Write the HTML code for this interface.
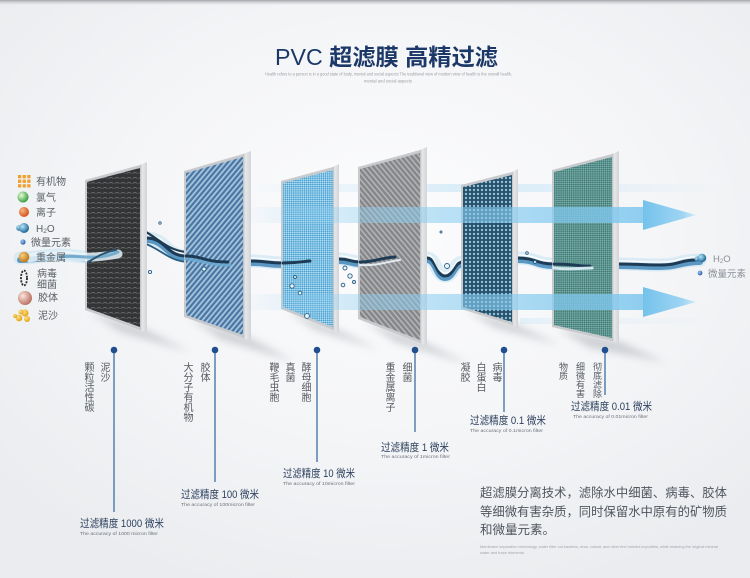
<!DOCTYPE html>
<html><head><meta charset="utf-8">
<style>
html,body{margin:0;padding:0;}
body{width:750px;height:578px;overflow:hidden;position:relative;
background:radial-gradient(ellipse 520px 380px at 52% 40%, #fcfcfd 0%, #f4f5f7 55%, #eaecef 100%);
font-family:"Liberation Sans","Noto Sans CJK SC",sans-serif;}
.topbar{position:absolute;left:0;top:0;width:750px;height:5px;background:linear-gradient(#a4a7ab,#d4d6d9 50%,rgba(240,241,243,0));}
svg{position:absolute;left:0;top:0;}
.v{position:absolute;writing-mode:vertical-rl;font-size:10px;line-height:10px;color:#555a60;letter-spacing:0px;font-family:"Liberation Sans","Noto Sans CJK SC",sans-serif;}
.v.s{font-size:9px;line-height:9px;}
</style></head><body>
<div class="topbar"></div>
<svg width="750" height="578" viewBox="0 0 750 578" xmlns="http://www.w3.org/2000/svg">
<defs>
<pattern id="p1" width="6" height="5" patternUnits="userSpaceOnUse"><rect width="6" height="5" fill="#333436"/><path d="M0.6,3.6 Q3,1.2 5.4,3.6" stroke="#6e7073" stroke-width="0.8" fill="none"/></pattern>
<pattern id="p2" width="4" height="4" patternUnits="userSpaceOnUse" patternTransform="rotate(40)"><rect width="4" height="4" fill="#4a76a2"/><rect width="1.8" height="4" fill="#a8c5df"/></pattern>
<pattern id="p3" width="3" height="3" patternUnits="userSpaceOnUse" patternTransform="rotate(45)"><rect width="3" height="3" fill="#45a0d2"/><rect width="1.5" height="1.5" fill="#b8def1"/><rect x="1.5" y="1.5" width="1.5" height="1.5" fill="#b8def1"/></pattern>
<pattern id="p4" width="4" height="4" patternUnits="userSpaceOnUse" patternTransform="rotate(-40)"><rect width="4" height="4" fill="#858689"/><rect width="1.6" height="4" fill="#b3b4b6"/></pattern>
<pattern id="p5" width="4" height="4" patternUnits="userSpaceOnUse"><rect width="4" height="4" fill="#28506a"/><circle cx="2" cy="2" r="1.2" fill="#8fc2da"/></pattern>
<pattern id="p6" width="3" height="3" patternUnits="userSpaceOnUse" patternTransform="rotate(45)"><rect width="3" height="3" fill="#3e7774"/><rect width="1.5" height="1.5" fill="#7db0aa"/><rect x="1.5" y="1.5" width="1.5" height="1.5" fill="#7db0aa"/></pattern>
<linearGradient id="edge" x1="0" x2="1" y1="0" y2="0"><stop offset="0" stop-color="#b9bbbe"/><stop offset="0.3" stop-color="#e6e7e9"/><stop offset="1" stop-color="#d2d4d7"/></linearGradient>
<linearGradient id="band" x1="240" x2="650" y1="0" y2="0" gradientUnits="userSpaceOnUse"><stop offset="0" stop-color="#8fd0f2" stop-opacity="0"/><stop offset="0.35" stop-color="#8fd0f2" stop-opacity="0.5"/><stop offset="1" stop-color="#7cc6ee" stop-opacity="0.85"/></linearGradient>
<linearGradient id="head" x1="643" x2="700" y1="0" y2="0" gradientUnits="userSpaceOnUse"><stop offset="0" stop-color="#74c2ec"/><stop offset="0.7" stop-color="#9fd5f2"/><stop offset="1" stop-color="#dff0fa"/></linearGradient>
<linearGradient id="faint" x1="240" x2="720" y1="0" y2="0" gradientUnits="userSpaceOnUse"><stop offset="0" stop-color="#bfe2f5" stop-opacity="0"/><stop offset="0.5" stop-color="#bfe2f5" stop-opacity="0.6"/><stop offset="1" stop-color="#bfe2f5" stop-opacity="0"/></linearGradient>
<filter id="blur" x="-30%" y="-30%" width="160%" height="160%"><feGaussianBlur stdDeviation="4"/></filter>
<radialGradient id="gGreen" cx="0.35" cy="0.35" r="0.7"><stop offset="0" stop-color="#eafbd8"/><stop offset="1" stop-color="#2f9a3a"/></radialGradient>
<radialGradient id="gOrange" cx="0.35" cy="0.35" r="0.7"><stop offset="0" stop-color="#f9b486"/><stop offset="1" stop-color="#d24d16"/></radialGradient>
<radialGradient id="gBlue" cx="0.35" cy="0.35" r="0.7"><stop offset="0" stop-color="#b7e6f7"/><stop offset="1" stop-color="#145f92"/></radialGradient>
<radialGradient id="gGold" cx="0.35" cy="0.35" r="0.7"><stop offset="0" stop-color="#f6cf86"/><stop offset="1" stop-color="#bd7410"/></radialGradient>
<radialGradient id="gPink" cx="0.35" cy="0.35" r="0.7"><stop offset="0" stop-color="#fbe6df"/><stop offset="1" stop-color="#b86c5c"/></radialGradient>
<radialGradient id="gYel" cx="0.35" cy="0.35" r="0.7"><stop offset="0" stop-color="#fde38a"/><stop offset="1" stop-color="#e0a010"/></radialGradient>
<radialGradient id="gDot" cx="0.35" cy="0.35" r="0.7"><stop offset="0" stop-color="#9cc8f0"/><stop offset="1" stop-color="#2858a8"/></radialGradient>
</defs>

<!-- Title -->
<text x="275" y="65" textLength="223" lengthAdjust="spacingAndGlyphs" font-size="23" fill="#1c3868" font-family="Liberation Sans, Noto Sans CJK SC, sans-serif"><tspan>PVC </tspan><tspan font-weight="bold">超滤膜 高精过滤</tspan></text>
<text x="265" y="75.5" textLength="247" lengthAdjust="spacingAndGlyphs" font-size="4.3" fill="#9a9ea4">Health refers to a person is in a good state of body, mental and social aspects The traditional view of modern view of health is the overall health,</text>
<text x="364" y="82.5" textLength="48" lengthAdjust="spacingAndGlyphs" font-size="4.3" fill="#9a9ea4">mental and social aspects</text>

<!-- panel shadows -->
<g filter="url(#blur)" fill="#aeb2b8" opacity="0.55">
<polygon points="90,312 147,330 190,352 120,332"/>
<polygon points="189,318 251,338 295,362 222,340"/>
<polygon points="286,310 339,330 380,350 315,330"/>
<polygon points="363,320 427,343 470,365 395,342"/>
<polygon points="466,310 518,325 560,345 495,328"/>
<polygon points="557,328 619,341 665,362 590,348"/>
</g>

<!-- faint streaks -->
<rect x="240" y="184" width="480" height="8" fill="url(#faint)"/>
<rect x="520" y="318" width="180" height="6" fill="url(#faint)" opacity="0.7"/>

<!-- water stream behind panels -->
<g fill="none" stroke-linecap="round" stroke-linejoin="round">
<path d="M20,258 C40,258 40,255 60,255 C80,255 80,258 100,258 C123,258 123,238 146,238 C166,238 166,256 186,256 C203,256 203,262 220,262 C235,262 235,261 251,261 C267,261 267,263 283,263 C311,263 311,259 340,259 C350,259 350,262 360,262 C378,262 378,257 395,257 C411,257 411,258 427,258 C436,258 436,276 445,276 C454,276 454,262 463,262 C476,262 476,257 490,257 C504,257 504,258 518,258 C536,258 536,264 554,264 C572,264 572,265 590,265 C605,265 605,264 620,264 C640,264 640,265 660,265 C680,265 680,260 700,260" stroke="#cfe7f4" stroke-width="13" opacity="0.7"/>
<path d="M20,258 C40,258 40,255 60,255 C80,255 80,258 100,258 C123,258 123,238 146,238 C166,238 166,256 186,256 C203,256 203,262 220,262 C235,262 235,261 251,261 C267,261 267,263 283,263 C311,263 311,259 340,259 C350,259 350,262 360,262 C378,262 378,257 395,257 C411,257 411,258 427,258 C436,258 436,276 445,276 C454,276 454,262 463,262 C476,262 476,257 490,257 C504,257 504,258 518,258 C536,258 536,264 554,264 C572,264 572,265 590,265 C605,265 605,264 620,264 C640,264 640,265 660,265 C680,265 680,260 700,260" stroke="#5a97c2" stroke-width="6" transform="translate(0,2)"/>
<path d="M60,255 C80,255 80,258 100,258 C123,258 123,238 146,238 C166,238 166,256 186,256 C203,256 203,262 220,262 C235,262 235,261 251,261 C267,261 267,263 283,263 C311,263 311,259 340,259 C350,259 350,262 360,262 C378,262 378,257 395,257 C411,257 411,258 427,258 C436,258 436,276 445,276 C454,276 454,262 463,262 C476,262 476,257 490,257 C504,257 504,258 518,258 C536,258 536,264 554,264 C572,264 572,265 590,265 C605,265 605,264 620,264 C640,264 640,265 660,265 C680,265 680,260 695,260" stroke="#1d3b55" stroke-width="3"/>
<path d="M60,255 C80,255 80,258 100,258 C123,258 123,238 146,238 C166,238 166,256 186,256 C203,256 203,262 220,262 C235,262 235,261 251,261 C267,261 267,263 283,263 C311,263 311,259 340,259 C350,259 350,262 360,262 C378,262 378,257 395,257 C411,257 411,258 427,258 C436,258 436,276 445,276 C454,276 454,262 463,262 C476,262 476,257 490,257 C504,257 504,258 518,258 C536,258 536,264 554,264 C572,264 572,265 590,265 C605,265 605,264 620,264 C640,264 640,265 660,265 C680,265 680,260 695,260" stroke="#ffffff" stroke-width="1.3" transform="translate(0,-3)" opacity="0.9"/>
<path d="M146,232 C160,240 168,250 186,252" stroke="#1d3b55" stroke-width="2.2"/>
<path d="M146,244 C162,250 170,262 190,262" stroke="#2a5b80" stroke-width="1.8"/>
</g>

<!-- Panels -->
<g>
<polygon points="85,180 140,165 140,330 85,310" fill="#c8cacd"/>
<polygon points="87,182 140,168 140,327 87,308" fill="url(#p1)"/>
<polygon points="140,165 147,162 147,333 140,330" fill="url(#edge)"/>
<polygon points="184,171 243,154 243,338 184,317" fill="#c8cacd"/>
<polygon points="186,173 243,157 243,335 186,315" fill="url(#p2)"/>
<polygon points="243,154 251,151 251,341 243,338" fill="url(#edge)"/>
<polygon points="281,181 333,167 333,330 281,309" fill="#c8cacd"/>
<polygon points="283,183 333,170 333,327 283,307" fill="url(#p3)"/>
<polygon points="333,167 339,164 339,333 333,330" fill="url(#edge)"/>
<polygon points="358,167 420,150 420,343 358,319" fill="#c8cacd"/>
<polygon points="360,169 420,153 420,340 360,317" fill="url(#p4)"/>
<polygon points="420,150 427,147 427,346 420,343" fill="url(#edge)"/>
<polygon points="461,185 512,172 512,325 461,309" fill="#c8cacd"/>
<polygon points="463,187 512,175 512,322 463,307" fill="url(#p5)"/>
<polygon points="512,172 518,169 518,328 512,325" fill="url(#edge)"/>
<polygon points="552,170 612,154 612,341 552,327" fill="#c8cacd"/>
<polygon points="554,172 612,157 612,338 554,325" fill="url(#p6)"/>
<polygon points="612,154 619,151 619,344 612,341" fill="url(#edge)"/>
</g>

<!-- stream overlays on panels -->
<g fill="none" stroke-linecap="round">
<path d="M30,258 C55,252 75,262 118,254" stroke="#e6f3fa" stroke-width="9" opacity="0.85"/>
<path d="M60,257 C80,254 95,262 118,252" stroke="#5fa0c8" stroke-width="3" opacity="0.8"/>
<path d="M88,262 C98,256 105,252 116,250" stroke="#2a5676" stroke-width="2"/>
<path d="M186,256 C203,256 203,262 228,262" stroke="#1d3b55" stroke-width="3"/>
<path d="M186,259 C203,260 210,266 230,265" stroke="#6aa8d0" stroke-width="3" opacity="0.9"/>
<path d="M283,263 C300,263 305,261 310,261" stroke="#1d3b55" stroke-width="3"/>
<path d="M360,262 C375,262 380,258 395,257" stroke="#1d3b55" stroke-width="3"/>
<path d="M360,265 C378,266 385,262 400,260" stroke="#e9f4fa" stroke-width="2" opacity="0.9"/>
<path d="M554,264 C572,264 575,266 590,266" stroke="#1d3b55" stroke-width="3"/>
<path d="M554,268 C572,270 580,268 592,268" stroke="#dff0f8" stroke-width="3" opacity="0.9"/>
</g>
<!-- droplets -->
<g fill="#eaf5fb" stroke="#2c5f86" stroke-width="0.9">
<circle cx="160" cy="223" r="1.2"/><circle cx="150" cy="272" r="1.6"/><circle cx="204" cy="269" r="2"/>
<circle cx="292" cy="286" r="2.2"/><circle cx="300" cy="293" r="1.8"/><circle cx="307" cy="316" r="2.4"/><circle cx="295" cy="277" r="1.5"/>
<circle cx="345" cy="268" r="2"/><circle cx="350" cy="276" r="2.2"/><circle cx="343" cy="285" r="1.8"/><circle cx="354" cy="282" r="1.5"/>
<circle cx="441" cy="232" r="1"/><circle cx="447" cy="266" r="2.5"/><circle cx="527" cy="253" r="1.3"/><circle cx="535" cy="262" r="1.5"/>
</g>

<!-- arrows / bands -->
<rect x="240" y="207" width="404" height="16" fill="url(#band)"/>
<polygon points="643,200 696,215 643,230" fill="url(#head)"/>
<rect x="240" y="294" width="404" height="16" fill="url(#band)"/>
<polygon points="643,287 696,302 643,317" fill="url(#head)"/>

<!-- right side outputs -->
<circle cx="697" cy="259" r="2.5" fill="url(#gBlue)"/>
<circle cx="702" cy="258" r="4.2" fill="url(#gBlue)"/>
<text x="713" y="262" font-size="9.5" fill="#8a8f96">H<tspan font-size="6" dy="1">2</tspan><tspan dy="-1">O</tspan></text>
<circle cx="700" cy="273" r="2.4" fill="url(#gDot)"/>
<text x="708" y="277" font-size="9.5" fill="#8a8f96">微量元素</text>

<!-- left legend -->
<g fill="#f0a030">
<rect x="18" y="175" width="3.3" height="3.3"/><rect x="22.6" y="175" width="3.3" height="3.3"/><rect x="27.2" y="175" width="3.3" height="3.3"/>
<rect x="18" y="179.6" width="3.3" height="3.3"/><rect x="22.6" y="179.6" width="3.3" height="3.3"/><rect x="27.2" y="179.6" width="3.3" height="3.3"/>
<rect x="18" y="184.2" width="3.3" height="3.3"/><rect x="22.6" y="184.2" width="3.3" height="3.3"/><rect x="27.2" y="184.2" width="3.3" height="3.3"/>
</g>
<circle cx="23" cy="197" r="5.5" fill="url(#gGreen)"/>
<circle cx="24" cy="212" r="5" fill="url(#gOrange)"/>
<circle cx="19" cy="228" r="2.8" fill="url(#gBlue)"/>
<circle cx="24" cy="228" r="5" fill="url(#gBlue)"/>
<circle cx="23" cy="242" r="2.6" fill="url(#gDot)"/>
<circle cx="24" cy="257" r="5.3" fill="url(#gGold)"/>
<ellipse cx="24" cy="278" rx="3" ry="7.5" fill="none" stroke="#2a2a2c" stroke-width="1.8" stroke-dasharray="2 1.2"/>
<circle cx="25" cy="298" r="7" fill="url(#gPink)"/>
<g fill="url(#gYel)"><circle cx="19" cy="318" r="3.3"/><circle cx="25" cy="313" r="3.5"/><circle cx="27" cy="319" r="3"/><circle cx="21" cy="312" r="2.5"/><circle cx="15" cy="316" r="2"/></g>
<g font-size="10" fill="#5b6066">
<text x="36" y="185">有机物</text>
<text x="36" y="201">氯气</text>
<text x="36" y="216">离子</text>
<text x="36" y="232">H<tspan font-size="6.5" dy="1">2</tspan><tspan dy="-1">O</tspan></text>
<text x="31" y="246">微量元素</text>
<text x="36" y="261">重金属</text>
<text x="37" y="277">病毒</text>
<text x="37" y="288">细菌</text>
<text x="38" y="301">胶体</text>
<text x="38" y="319">泥沙</text>
</g>

<!-- leader lines -->
<g stroke="#4a78aa" stroke-width="1.4">
<line x1="114" y1="350" x2="114" y2="512"/>
<line x1="215" y1="350" x2="215" y2="482"/>
<line x1="317" y1="350" x2="317" y2="462"/>
<line x1="415" y1="350" x2="415" y2="432"/>
<line x1="504" y1="350" x2="504" y2="412"/>
<line x1="605" y1="350" x2="605" y2="395"/>
</g>
<g fill="#1f4f8f">
<circle cx="114" cy="350" r="3.3"/><circle cx="215" cy="350" r="3.3"/><circle cx="317" cy="350" r="3.3"/>
<circle cx="415" cy="350" r="3.3"/><circle cx="504" cy="350" r="3.3"/><circle cx="605" cy="350" r="3.3"/>
</g>

<!-- accuracy labels -->
<g font-size="11" fill="#2b3f5c">
<text x="80" y="527" textLength="84" lengthAdjust="spacingAndGlyphs">过滤精度 1000 微米</text>
<text x="181" y="498" textLength="78" lengthAdjust="spacingAndGlyphs">过滤精度 100 微米</text>
<text x="283" y="477" textLength="72" lengthAdjust="spacingAndGlyphs">过滤精度 10 微米</text>
<text x="381" y="451" textLength="68" lengthAdjust="spacingAndGlyphs">过滤精度 1 微米</text>
<text x="470" y="424" textLength="76" lengthAdjust="spacingAndGlyphs">过滤精度 0.1 微米</text>
<text x="571" y="410" textLength="81" lengthAdjust="spacingAndGlyphs">过滤精度 0.01 微米</text>
</g>
<g font-size="4.6" fill="#6b7078">
<text x="80" y="535" textLength="78" lengthAdjust="spacingAndGlyphs">The accuracy of 1000 micron filter</text>
<text x="181" y="506" textLength="74" lengthAdjust="spacingAndGlyphs">The accuracy of 100micron filter</text>
<text x="283" y="485" textLength="72" lengthAdjust="spacingAndGlyphs">The accuracy of 10micron filter</text>
<text x="381" y="458" textLength="69" lengthAdjust="spacingAndGlyphs">The accuracy of 1micron filter</text>
<text x="470" y="432" textLength="73" lengthAdjust="spacingAndGlyphs">The accuracy of 0.1micron filter</text>
<text x="573" y="418" textLength="75" lengthAdjust="spacingAndGlyphs">The accuracy of 0.01micron filter</text>
</g>

<!-- bottom paragraph -->
<g font-size="12.5" fill="#50565e">
<text x="480" y="497" textLength="247" lengthAdjust="spacingAndGlyphs">超滤膜分离技术，滤除水中细菌、病毒、胶体</text>
<text x="480" y="516" textLength="247" lengthAdjust="spacingAndGlyphs">等细微有害杂质，同时保留水中原有的矿物质</text>
<text x="480" y="534">和微量元素。</text>
</g>
<g font-size="3.8" fill="#a0a4aa">
<text x="480" y="548" textLength="238" lengthAdjust="spacingAndGlyphs">Membrane separation technology, water filter out bacteria, virus, colloid, and other fine harmful impurities, while retaining the original mineral</text>
<text x="480" y="554" textLength="45" lengthAdjust="spacingAndGlyphs">water and trace elements.</text>
</g>
</svg>

<!-- vertical captions -->
<div class="v" style="left:98px;top:362px;">泥沙</div>
<div class="v" style="left:82px;top:362px;">颗粒活性碳</div>
<div class="v" style="left:198px;top:362px;">胶体</div>
<div class="v" style="left:181px;top:362px;">大分子有机物</div>
<div class="v" style="left:299px;top:362px;">酵母细胞</div>
<div class="v" style="left:283px;top:362px;">真菌</div>
<div class="v" style="left:267px;top:362px;">鞭毛虫胞</div>
<div class="v" style="left:400px;top:362px;">细菌</div>
<div class="v" style="left:383px;top:362px;">重金属离子</div>
<div class="v" style="left:490px;top:362px;">病毒</div>
<div class="v" style="left:474px;top:362px;">白蛋白</div>
<div class="v" style="left:458px;top:362px;">凝胶</div>
<div class="v s" style="left:592px;top:362px;">彻底滤除</div>
<div class="v s" style="left:575px;top:362px;">细微有害</div>
<div class="v s" style="left:558px;top:362px;">物质</div>
</body></html>
